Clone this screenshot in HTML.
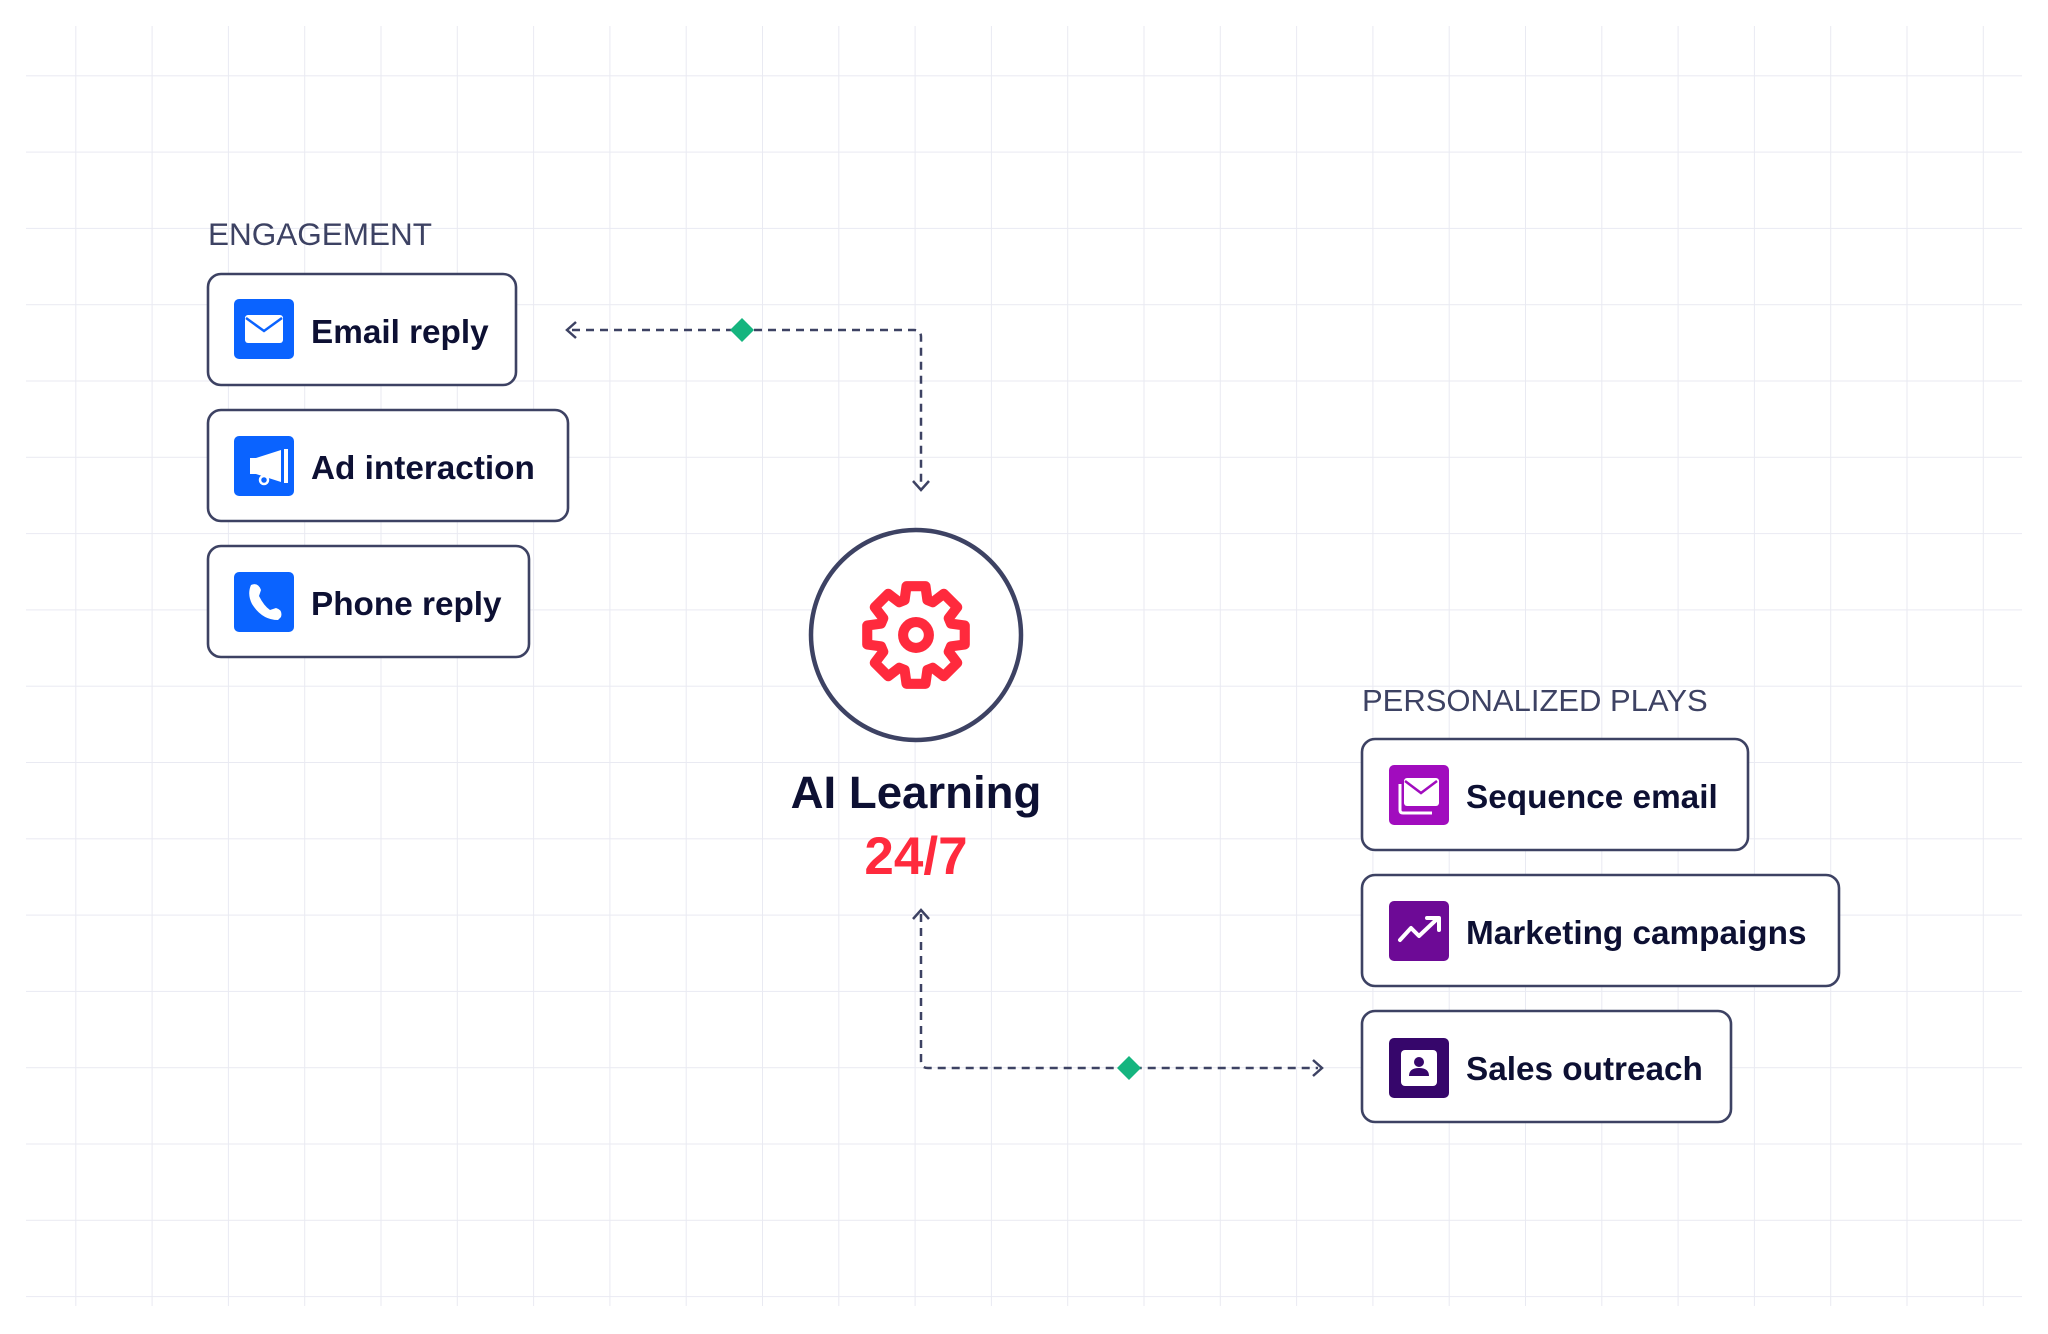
<!DOCTYPE html>
<html><head><meta charset="utf-8"><style>
html,body{margin:0;padding:0;background:#fff;}
svg{display:block;}
text{font-family:"Liberation Sans",sans-serif;}
</style></head><body>
<svg width="2048" height="1334" viewBox="0 0 2048 1334" xmlns="http://www.w3.org/2000/svg">
<defs>
<pattern id="g" x="0" y="0" width="76.3" height="76.3" patternUnits="userSpaceOnUse">
<path d="M76.3 0V76.3M0 76.3H76.3" stroke="#e9eaf2" stroke-width="2" fill="none"/>
</pattern>
</defs>
<rect x="26" y="26" width="1996" height="1280" fill="url(#g)"/>

<g fill="none" stroke="#3d4263" stroke-width="2.5" stroke-dasharray="8 6">
<path d="M572 330H914Q921 330 921 337V488"/>
<path d="M921 914V1061Q921 1068 928 1068H1318"/>
</g>
<g fill="none" stroke="#3d4263" stroke-width="2.5">
<path d="M576 322L567 330L576 338"/>
<path d="M913 481L921 490L929 481"/>
<path d="M913 919L921 910L929 919"/>
<path d="M1313 1060L1322 1068L1313 1076"/>
</g>
<path d="M742 318L754 330L742 342L730 330Z" fill="#15b57f"/>
<path d="M1129 1056L1141 1068L1129 1080L1117 1068Z" fill="#15b57f"/>

<text x="208" y="245" font-size="31.5" fill="#3d4263">ENGAGEMENT</text>
<g fill="#fff" stroke="#3d4263" stroke-width="2.6">
<rect x="208" y="274" width="308" height="111" rx="13"/>
<rect x="208" y="410" width="360" height="111" rx="13"/>
<rect x="208" y="546" width="321" height="111" rx="13"/>
</g>
<g fill="#0a63ff">
<rect x="234" y="299" width="60" height="60" rx="5"/>
<rect x="234" y="436" width="60" height="60" rx="5"/>
<rect x="234" y="572" width="60" height="60" rx="5"/>
</g>
<rect x="245" y="315" width="38" height="28" rx="3" fill="#fff"/>
<path d="M246 318L264 331L282 318" fill="none" stroke="#0a63ff" stroke-width="2.5"/>
<path d="M250 458H256L281 450V482L256 474H250Z" fill="#fff"/>
<rect x="284" y="449" width="4" height="34" fill="#fff"/>
<circle cx="264" cy="480" r="4" fill="none" stroke="#fff" stroke-width="2.5"/>
<path d="M251 585Q258 582 261 590L259 596Q264 606 270 610L276 608Q283 610 281 617L278 620Q262 620 252 604Q247 594 251 585Z" fill="#fff"/>
<g font-size="33.3" font-weight="bold" fill="#0d1033">
<text x="311" y="343">Email reply</text>
<text x="311" y="479">Ad interaction</text>
<text x="311" y="615">Phone reply</text>
</g>

<circle cx="916" cy="635" r="105" fill="#fff" stroke="#3d4263" stroke-width="4.5"/>
<g transform="translate(916 635) scale(0.92)" fill="none" stroke="#ff2a3d" stroke-width="11" stroke-linejoin="round">
<path d="M38 -12.4L53 -10.3L53 10.3L38 12.4L35.6 18.2L44.8 30.2L30.2 44.8L18.2 35.6L12.4 38L10.3 53L-10.3 53L-12.4 38L-18.2 35.6L-30.2 44.8L-44.8 30.2L-35.6 18.2L-38 12.4L-53 10.3L-53 -10.3L-38 -12.4L-35.6 -18.2L-44.8 -30.2L-30.2 -44.8L-18.2 -35.6L-12.4 -38L-10.3 -53L10.3 -53L12.4 -38L18.2 -35.6L30.2 -44.8L44.8 -30.2L35.6 -18.2Z"/>
<circle r="14"/>
</g>
<text x="916" y="808" font-size="45.6" font-weight="bold" fill="#0d1033" text-anchor="middle">AI Learning</text>
<text x="916" y="874" font-size="53" font-weight="bold" fill="#ff2a3d" text-anchor="middle">24/7</text>

<text x="1362" y="711" font-size="31" fill="#3d4263">PERSONALIZED PLAYS</text>
<g fill="#fff" stroke="#3d4263" stroke-width="2.6">
<rect x="1362" y="739" width="386" height="111" rx="13"/>
<rect x="1362" y="875" width="477" height="111" rx="13"/>
<rect x="1362" y="1011" width="369" height="111" rx="13"/>
</g>
<rect x="1389" y="765" width="60" height="60" rx="5" fill="#a10cbe"/>
<rect x="1389" y="901" width="60" height="60" rx="5" fill="#6d0a96"/>
<rect x="1389" y="1038" width="60" height="60" rx="5" fill="#36066b"/>
<rect x="1404" y="778" width="35" height="28" rx="3" fill="#fff"/>
<path d="M1405 781L1421 793L1437 781" fill="none" stroke="#a10cbe" stroke-width="2.5"/>
<path d="M1400 784V810Q1400 813 1403 813H1432" fill="none" stroke="#fff" stroke-width="3"/>
<path d="M1400 940L1411 928L1419 936L1436 920" fill="none" stroke="#fff" stroke-width="4" stroke-linecap="round" stroke-linejoin="round"/>
<path d="M1427 918H1439V930" fill="none" stroke="#fff" stroke-width="4" stroke-linecap="round" stroke-linejoin="round"/>
<rect x="1401" y="1050" width="36" height="36" rx="4" fill="#fff"/>
<circle cx="1419" cy="1062" r="5" fill="#36066b"/>
<path d="M1409 1076Q1409 1068 1419 1068Q1429 1068 1429 1076Z" fill="#36066b"/>
<g font-size="33.3" font-weight="bold" fill="#0d1033">
<text x="1466" y="808">Sequence email</text>
<text x="1466" y="944">Marketing campaigns</text>
<text x="1466" y="1080">Sales outreach</text>
</g>
</svg>
</body></html>
